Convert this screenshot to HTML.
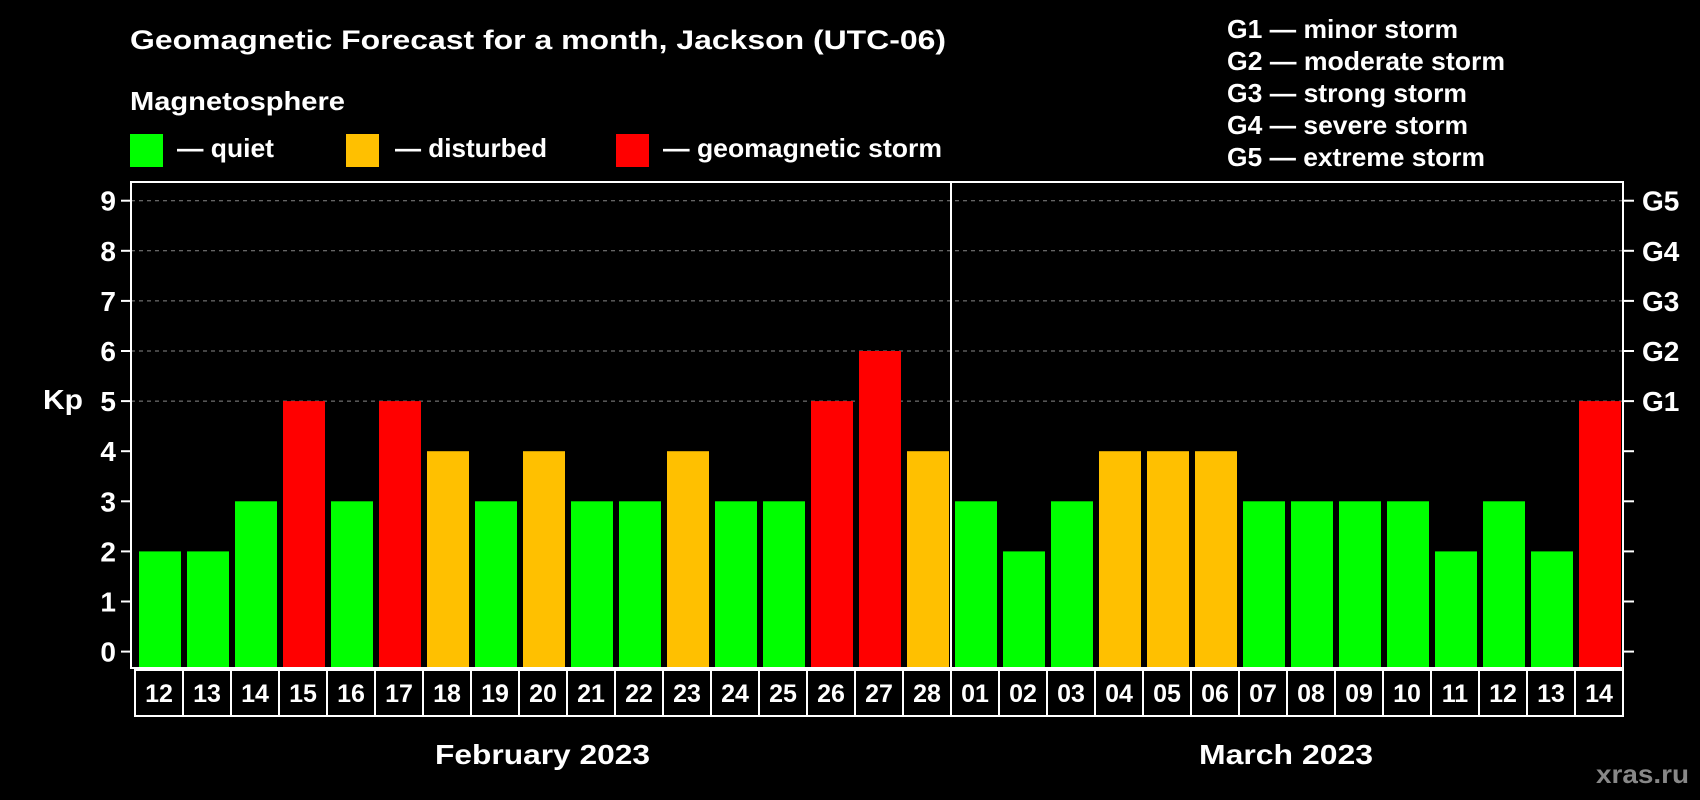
<!DOCTYPE html>
<html><head><meta charset="utf-8"><style>
html,body{margin:0;padding:0;background:#000;}
svg{display:block;font-family:"Liberation Sans",Arial,sans-serif;font-weight:bold;}
</style></head><body>
<svg id="chart" width="1700" height="800" viewBox="0 0 1700 800" xmlns="http://www.w3.org/2000/svg">
<rect width="1700" height="800" fill="#000"/>
<text x="130" y="49" fill="#fff" font-size="27" textLength="816" lengthAdjust="spacingAndGlyphs">Geomagnetic Forecast for a month, Jackson (UTC-06)</text>
<text x="130" y="110" fill="#fff" font-size="26" textLength="215" lengthAdjust="spacingAndGlyphs">Magnetosphere</text>
<g><rect x="130" y="134" width="33" height="33" fill="#00ff00"/><text x="177" y="157" fill="#fff" font-size="26" textLength="97" lengthAdjust="spacingAndGlyphs">— quiet</text></g>
<g><rect x="346" y="134" width="33" height="33" fill="#ffc000"/><text x="395" y="157" fill="#fff" font-size="26" textLength="152" lengthAdjust="spacingAndGlyphs">— disturbed</text></g>
<g><rect x="616" y="134" width="33" height="33" fill="#ff0000"/><text x="663" y="157" fill="#fff" font-size="26" textLength="279" lengthAdjust="spacingAndGlyphs">— geomagnetic storm</text></g>
<g fill="#fff" font-size="26">
<text x="1227" y="38" textLength="231" lengthAdjust="spacingAndGlyphs">G1 — minor storm</text>
<text x="1227" y="70" textLength="278" lengthAdjust="spacingAndGlyphs">G2 — moderate storm</text>
<text x="1227" y="102" textLength="240" lengthAdjust="spacingAndGlyphs">G3 — strong storm</text>
<text x="1227" y="134" textLength="241" lengthAdjust="spacingAndGlyphs">G4 — severe storm</text>
<text x="1227" y="166" textLength="258" lengthAdjust="spacingAndGlyphs">G5 — extreme storm</text>
</g>
<text x="43" y="409" fill="#fff" font-size="28" textLength="40" lengthAdjust="spacingAndGlyphs">Kp</text>
<g id="grid"></g>
<g id="bars"></g>
<rect x="131" y="182" width="1492" height="486" fill="none" stroke="#fff" stroke-width="2"/>
<g id="axes"></g>
<g id="dates"></g>
<text x="435" y="764" fill="#fff" font-size="28" textLength="215" lengthAdjust="spacingAndGlyphs">February 2023</text>
<text x="1199" y="764" fill="#fff" font-size="28" textLength="174" lengthAdjust="spacingAndGlyphs">March 2023</text>
<text x="1596" y="783" fill="#888" font-size="26" textLength="93" lengthAdjust="spacingAndGlyphs">xras.ru</text>
</svg>
<script>
const days = ["12","13","14","15","16","17","18","19","20","21","22","23","24","25","26","27","28","01","02","03","04","05","06","07","08","09","10","11","12","13","14"];
const kpValues = [2,2,3,5,3,5,4,3,4,3,3,4,3,3,5,6,4,3,2,3,4,4,4,3,3,3,3,2,3,2,5];
const yTicks = [0,1,2,3,4,5,6,7,8,9];
const gLabels = ["G1","G2","G3","G4","G5"];
const monthSplit = 17;

const NS="http://www.w3.org/2000/svg";
const y = v => 651.6 - v*50.1;
const x = i => 134 + i*48;
function mk(tag, attrs, parent){const e=document.createElementNS(NS,tag);for(const k in attrs)e.setAttribute(k,attrs[k]);parent.appendChild(e);return e;}
const grid=document.getElementById('grid'), bars=document.getElementById('bars'), axes=document.getElementById('axes'), dates=document.getElementById('dates');
yTicks.forEach(v=>{
  if(v>=5){const l=mk('line',{x1:131,x2:1623,y1:y(v),y2:y(v),stroke:'#888','stroke-dasharray':'4,4','stroke-width':1},grid);
  
  }
  const t1=mk('line',{x1:121,x2:131,y1:y(v),y2:y(v),stroke:'#fff','stroke-width':2},axes);
  
  
  const t2=mk('line',{x1:1623,x2:1634,y1:y(v),y2:y(v),stroke:'#fff','stroke-width':2},axes);
  
  
  const lb=mk('text',{x:116,y:y(v)+10,fill:'#fff','font-size':28,'text-anchor':'end'},axes);
  lb.textContent=v;
  
  
});
gLabels.forEach((g,i)=>{
  const t=mk('text',{x:1642,y:y(5+i)+10,fill:'#fff','font-size':28},axes);
  t.textContent=g;
  
  
});
kpValues.forEach((v,i)=>{
  const c = v>=5?'#ff0000':(v>=4?'#ffc000':'#00ff00');
  const r=mk('rect',{x:x(i)+5,y:y(v),width:42,height:667-y(v),fill:c},bars);
  
  
});
const sep=mk('line',{x1:951,x2:951,y1:182,y2:668,stroke:'#fff','stroke-width':2},axes);


days.forEach((d,i)=>{
  const b=mk('rect',{x:x(i)+1,y:670,width:48,height:46,fill:'none',stroke:'#fff','stroke-width':2},dates);
  
  
  const t=mk('text',{x:x(i)+25,y:702,fill:'#fff','font-size':25,'text-anchor':'middle'},dates);
  t.textContent=d;
  
  
});
</script>
</body></html>
